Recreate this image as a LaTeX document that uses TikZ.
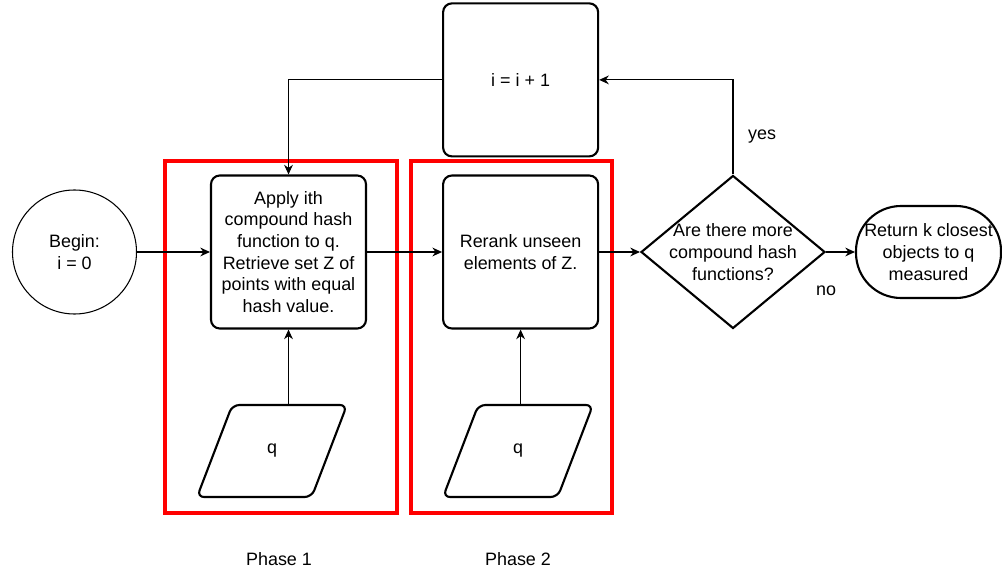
\documentclass[tikz,border=0pt]{standalone}
\usepackage{fontspec}
\setmainfont{Liberation Sans}
\definecolor{PhaseRed}{RGB}{255, 0, 0}
\usetikzlibrary{arrows.meta, positioning, shapes.geometric}

\begin{document}
\begin{tikzpicture}[every node/.style={font=\fontsize{10.2}{12.3}\selectfont, align=center},
    conn/.style={-{Stealth[length=5.5pt, width=5pt]}, line width=0.6pt},
    stepbox/.style={draw, line width=1.2pt, rectangle, rounded corners=5pt, minimum width=3.1cm, minimum height=3.06cm, inner sep=2pt},
    inputbox/.style={draw, line width=1.2pt, trapezium, trapezium left angle=69, trapezium right angle=111, trapezium stretches=true, rounded corners=4pt, minimum width=3cm, minimum height=1.84cm},
    phasebox/.style={draw=PhaseRed, line width=2.3pt, minimum height=7.04cm}]
            \useasboundingbox (0,0) rectangle (20.04,-11.5);

            % the two phases
            \node[phasebox, minimum width=4.64cm] (frame1) at (5.62,-6.74) {};
            \node[phasebox, minimum width=4.02cm] (frame2) at (10.23,-6.74) {};
            \node (phase1) at (5.58,-11.18) {Phase 1};
            \node (phase2) at (10.36,-11.18) {Phase 2};

            \node[draw, circle, line width=0.6pt, minimum size=2.48cm] (begin) at (1.49,-5.04) {Begin:\\i = 0};
            \node[stepbox] (apply) at (5.77,-5.04) {Apply ith\\compound hash\\function to q.\\Retrieve set Z of\\points with equal\\hash value.};
            \node[stepbox, right=1.5cm of apply] (rerank) {Rerank unseen\\elements of Z.};
            \node[stepbox, above=0.34cm of rerank] (incr) {i = i + 1};
            \node[draw, diamond, line width=1.2pt, inner sep=0pt, minimum width=3.68cm, minimum height=3.06cm] (decide) at (14.66,-5.04) {};
            \node (decidetext) at (decide) {Are there more\\compound hash\\functions?};
            \node[draw, rectangle, rounded corners=0.9cm, line width=1.2pt, inner sep=0pt, minimum width=2.9cm, minimum height=1.84cm] (stop) at (18.57,-5.04) {Return k closest\\objects to q\\measured};
            \node[inputbox] (q1) at (5.44,-9.02) {q};
            \node[inputbox] (q2) at (10.36,-9.02) {q};

            \draw[conn] (begin) -- (apply);
            \draw[conn] (apply) -- (rerank);
            \draw[conn] (rerank) -- (decide);
            \draw[conn] (decide) -- (stop) node[at start, below=0.55cm] (no) {no};
            \draw[conn] (decide.north) |- (incr.east) node[pos=0.2, right, xshift=5pt] (yes) {yes};
            \draw[conn] (incr.west) -| (apply.north);
            \draw[conn] (apply.south |- q1.north) -- (apply.south);
            \draw[conn] (rerank.south |- q2.north) -- (rerank.south);
        \end{tikzpicture}
\end{document}
